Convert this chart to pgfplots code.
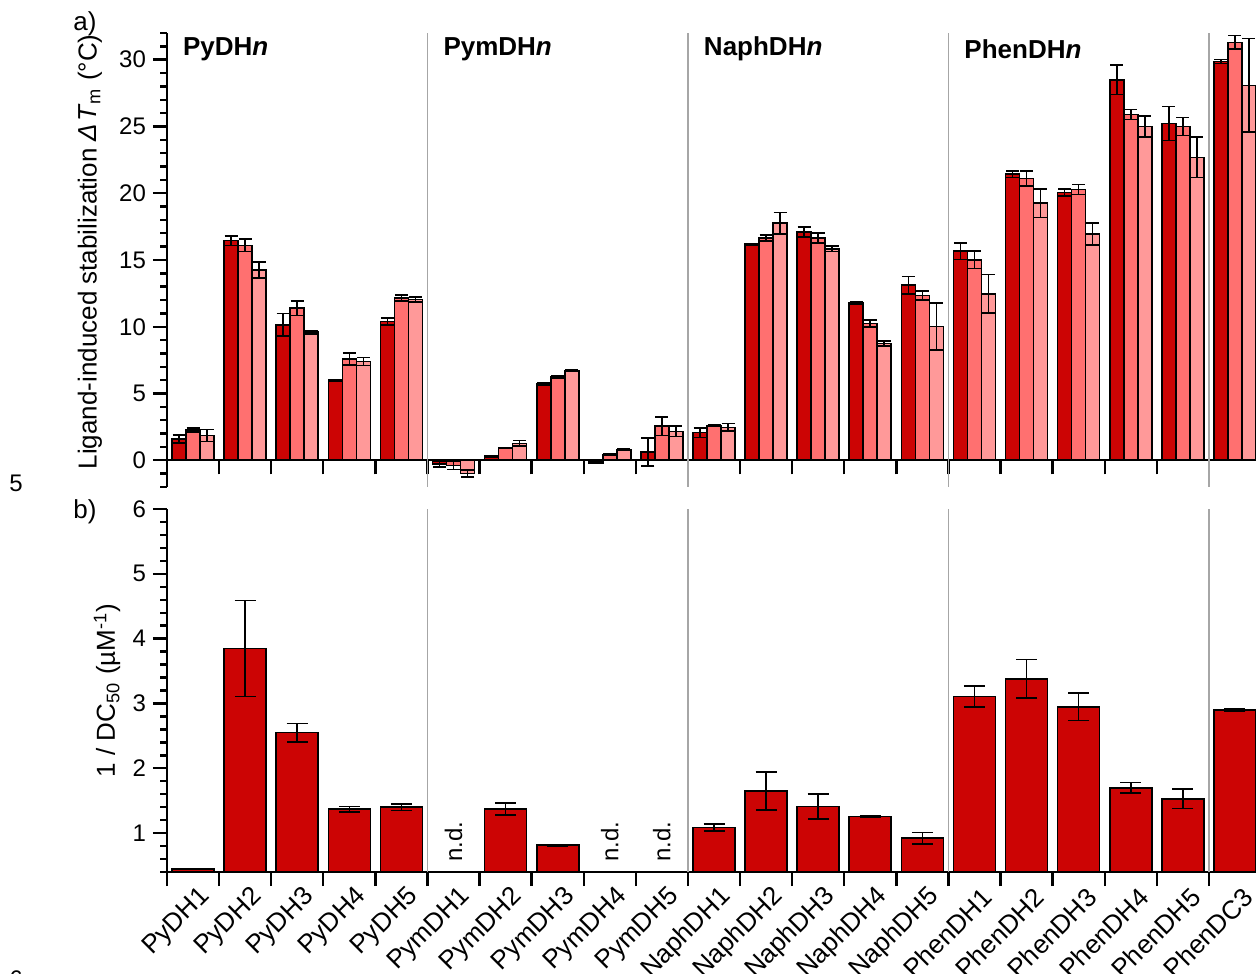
\documentclass[border=0pt]{standalone}
\usepackage{fontspec}
\setmainfont{Liberation Sans}
\usepackage{pgfplots}
\usepackage{pgfplotstable}
\pgfplotsset{compat=1.18}

\definecolor{cdark}{RGB}{204,4,4}
\definecolor{cmed}{RGB}{255,112,112}
\definecolor{clight}{RGB}{255,153,153}

% Delta T_m, three shades per compound
\pgfplotstableread{
x a ea b eb c ec
0 1.6 0.3 2.25 0.15 1.85 0.45
1 16.45 0.35 16.1 0.45 14.25 0.6
2 10.15 0.85 11.4 0.55 9.6 0.12
3 6.0 0.05 7.6 0.45 7.4 0.3
4 10.4 0.25 12.15 0.22 12.05 0.2
5 -0.3 0.2 -0.4 0.3 -1.0 0.25
6 0.3 0.05 0.92 0.05 1.27 0.2
7 5.7 0.1 6.25 0.1 6.7 0.05
8 -0.2 0.05 0.4 0.05 0.8 0.05
9 0.62 1.05 2.55 0.7 2.17 0.4
10 2.07 0.37 2.6 0.05 2.47 0.27
11 16.18 0.05 16.65 0.22 17.75 0.8
12 17.08 0.37 16.66 0.37 15.84 0.2
13 11.8 0.08 10.25 0.25 8.75 0.2
14 13.12 0.65 12.34 0.32 10.02 1.75
15 15.66 0.62 15.01 0.65 12.47 1.45
16 21.42 0.25 21.1 0.57 19.25 1.07
17 20.05 0.27 20.27 0.37 16.96 0.82
18 28.5 1.12 25.9 0.37 25.0 0.77
19 25.21 1.27 24.99 0.67 22.69 1.5
20 29.87 0.15 31.3 0.5 28.08 3.5
}\topdata

% 1/DC50, n.d. compounds left out
\pgfplotstableread{
x y e
0 0.446 0.01
1 3.85 0.74
2 2.55 0.14
3 1.37 0.04
4 1.40 0.05
6 1.37 0.09
7 0.815 0.01
10 1.087 0.05
11 1.65 0.29
12 1.41 0.19
13 1.256 0.01
14 0.92 0.09
15 3.11 0.16
16 3.38 0.30
17 2.95 0.21
18 1.70 0.08
19 1.53 0.15
20 2.90 0.02
}\botdata

\pgfplotsset{
  panel/.style={
    scale only axis, width=547pt,
    xmin=-0.5, xmax=20.5,
    every non boxed x axis/.append style={x axis line style={-}},
    every non boxed y axis/.append style={y axis line style={-}},
    axis y line=left,
    x axis line style={-}, y axis line style={-},
    axis line style={line width=1.2pt},
    tick style={line width=1.2pt, black},
    major tick length=7pt, minor tick length=3.5pt,
    xtick={-0.5,0.5,...,20.5},
    hide obscured y ticks=false, hide obscured x ticks=false,
    /pgf/number format/assume math mode=true,
    ticklabel style={font=\fontsize{12}{14}\selectfont},
    label style={font=\fontsize{13}{15}\selectfont},
    clip=true,
  },
  errs/.style={error bars/.cd, y dir=both, y explicit,
    error bar style={line width=0.8pt, black},
    error mark options={rotate=90, mark size=#1, line width=0.8pt, black}},
}

\begin{document}
\begin{tikzpicture}
\useasboundingbox (0,0) rectangle (628pt,486.5pt);
\clip (0,0) rectangle (628pt,486.5pt);

\begin{axis}[panel,
  at={(83.5pt,243pt)}, anchor=south west, height=227pt,
  ymin=-2, ymax=32,
  axis x line=middle, x axis line style={-},
  xtick align=center, ytick align=outside,
  xticklabels={},
  ytick={0,5,...,30}, minor ytick={-2,-1,...,32},
  ylabel={Ligand-induced stabilization \textit{Δ\kern0.08em T}\textsubscript{m} (°C)},
  ylabel style={at={(axis description cs:-0.0704,0.518)}, anchor=center},
  ybar=0pt, bar width=7pt,
]
\addplot[fill=cdark, draw=black, line width=0.8pt, errs=3.25pt] table[x=x, y=a, y error=ea] {\topdata};
\addplot[fill=cmed, draw=black, line width=0.8pt, errs=3.25pt] table[x=x, y=b, y error=eb] {\topdata};
\addplot[fill=clight, draw=black, line width=0.8pt, errs=3.25pt] table[x=x, y=c, y error=ec] {\topdata};
\pgfplotsinvokeforeach{4.5,9.5,14.5,19.5}{
  \draw[black!35, line width=0.6pt] (axis cs:#1,-2) -- (axis cs:#1,32);}
\node[anchor=west, inner sep=0, font=\fontsize{13}{15}\selectfont\bfseries] at (axis cs:-0.2,30.8) {PyDH\textit{n}};
\node[anchor=west, inner sep=0, font=\fontsize{13}{15}\selectfont\bfseries] at (axis cs:4.8,30.8) {PymDH\textit{n}};
\node[anchor=west, inner sep=0, font=\fontsize{13}{15}\selectfont\bfseries] at (axis cs:9.8,30.8) {NaphDH\textit{n}};
\node[anchor=west, inner sep=0, font=\fontsize{13}{15}\selectfont\bfseries] at (axis cs:14.8,30.8) {PhenDH\textit{n}};
\end{axis}

\begin{axis}[panel,
  at={(83.5pt,50.5pt)}, anchor=south west, height=181.5pt,
  ymin=0.4, ymax=6,
  axis x line=bottom, x axis line style={-},
  xtick align=center, ytick align=outside,
  x tick label as interval,
  xticklabels={PyDH1,PyDH2,PyDH3,PyDH4,PyDH5,PymDH1,PymDH2,PymDH3,PymDH4,PymDH5,NaphDH1,NaphDH2,NaphDH3,NaphDH4,NaphDH5,PhenDH1,PhenDH2,PhenDH3,PhenDH4,PhenDH5,PhenDC3},
  xticklabel style={xshift=9pt, yshift=-1pt, rotate=45, anchor=east, font=\fontsize{13}{15}\selectfont},
  ytick={1,2,...,6}, minor ytick={0.4,0.6,...,6},
  ylabel={1 / DC\textsubscript{50} (µM\textsuperscript{-1})},
  ylabel style={at={(axis description cs:-0.0548,0.5)}, anchor=center},
  ybar, bar width=21pt,
]
\addplot[fill=cdark, draw=black, line width=0.8pt, errs=5.25pt] table[x=x, y=y, y error=e] {\botdata};
\pgfplotsinvokeforeach{4.5,9.5,14.5,19.5}{
  \draw[black!35, line width=0.6pt] (axis cs:#1,0.4) -- (axis cs:#1,6);}
\pgfplotsinvokeforeach{5,8,9}{
  \node[rotate=90, anchor=west, inner sep=0, font=\fontsize{12}{14}\selectfont] at (axis cs:#1,0.55) {n.d.};}
\end{axis}

\node[font=\fontsize{13}{15}\selectfont] at (42.5pt,474.5pt) {a)};
\node[font=\fontsize{13}{15}\selectfont] at (42.5pt,230.5pt) {b)};
\node[font=\fontsize{12}{14}\selectfont] at (8pt,245pt) {5};
\node[anchor=north, inner sep=0, font=\fontsize{12}{14}\selectfont] at (8pt,1.5pt) {6};
\end{tikzpicture}
\end{document}
